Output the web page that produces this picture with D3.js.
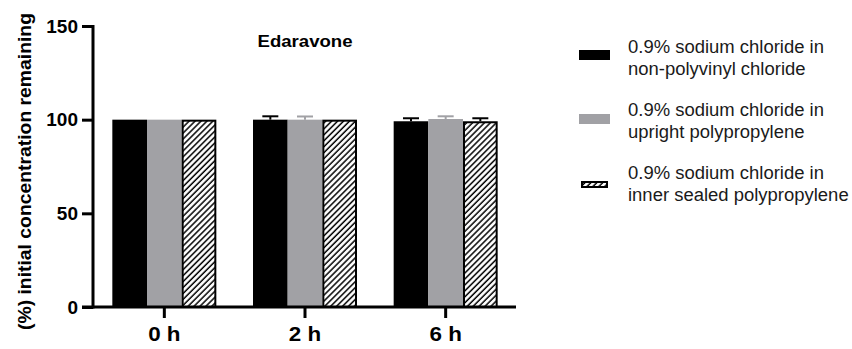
<!DOCTYPE html>
<html><head><meta charset="utf-8">
<script src="https://cdn.jsdelivr.net/npm/d3@7"></script>
<style>body{margin:0;background:#fff}svg{display:block}text{font-family:"Liberation Sans",Arial,sans-serif}</style>
</head><body><svg id="c" width="852" height="349"></svg>
<script>
const categories = ["0 h", "2 h", "6 h"];
const seriesNames = [
  ["0.9% sodium chloride in", "non-polyvinyl chloride"],
  ["0.9% sodium chloride in", "upright polypropylene"],
  ["0.9% sodium chloride in", "inner sealed polypropylene"]
];
const nonPvcValues = [100, 100, 99.15];
const nonPvcErrors = [0, 1.8, 1.6];
const uprightValues = [100, 100, 100.35];
const uprightErrors = [0, 1.7, 1.45];
const innerValues = [100, 100, 99.15];
const innerErrors = [0, 0, 1.6];
const yTicks = [0, 50, 100, 150];
const title = "Edaravone";
const yTitle = "(%) initial concentration remaining";

const series = [
  {key: "a", values: nonPvcValues, errors: nonPvcErrors, fill: "#000", err: "#000"},
  {key: "b", values: uprightValues, errors: uprightErrors, fill: "#a1a1a5", err: "#a1a1a5"},
  {key: "c", values: innerValues, errors: innerErrors, fill: "url(#hatch)", err: "#000", stroke: "#000"}
];

const svg = d3.select("#c");
const defs = svg.append("defs");
const pat = defs.append("pattern").attr("id", "hatch").attr("patternUnits", "userSpaceOnUse")
  .attr("width", 4.2).attr("height", 4.2).attr("patternTransform", "rotate(45)");
pat.append("rect").attr("width", 4.2).attr("height", 4.2).attr("fill", "#fff");
pat.append("line").attr("x1", 1).attr("y1", 0).attr("x2", 1).attr("y2", 4.2).attr("stroke", "#000").attr("stroke-width", 1.5);

const y = d3.scaleLinear().domain([0, 150]).range([307, 26]);
const x = d3.scaleBand().domain(categories).range([94, 516]).padding(0);
const groupW = 104;
const xi = d3.scaleBand().domain(series.map(s => s.key)).range([0, groupW]).padding(0);

// bars
series.forEach(s => {
  const g = svg.append("g");
  categories.forEach((c, i) => {
    const x0 = x(c) + x.bandwidth() / 2 - groupW / 2 + xi(s.key);
    const bw = xi.bandwidth();
    const v = s.values[i], e = s.errors[i];
    if (e > 0) {
      const cx = x0 + bw / 2;
      g.append("line").attr("x1", cx).attr("x2", cx).attr("y1", y(v)).attr("y2", y(v + e))
        .attr("stroke", s.err).attr("stroke-width", 2);
      g.append("line").attr("x1", cx - 8).attr("x2", cx + 8).attr("y1", y(v + e)).attr("y2", y(v + e))
        .attr("stroke", s.err).attr("stroke-width", 2);
    }
    if (s.stroke) {
      g.append("rect").attr("x", x0 + 1).attr("y", y(v) + 1).attr("width", bw - 2).attr("height", y(0) - y(v) - 1)
        .attr("fill", s.fill).attr("stroke", s.stroke).attr("stroke-width", 2);
    } else {
      g.append("rect").attr("x", x0).attr("y", y(v)).attr("width", bw).attr("height", y(0) - y(v))
        .attr("fill", s.fill);
    }
  });
});

// y axis
const yAxis = svg.append("g").attr("transform", "translate(93,0)")
  .call(d3.axisLeft(y).tickValues(yTicks).tickSize(11).tickPadding(4));
yAxis.attr("font-size", null).attr("font-family", null);
yAxis.select(".domain").attr("d", `M0,${y(150)-1}V${y(0)+1.5}`).attr("stroke-width", 3);
yAxis.selectAll(".tick line").attr("stroke-width", 3);
yAxis.selectAll(".tick text").style("font-size", "19px").style("font-weight", "bold").attr("fill", "#000");

// x axis
const xAxis = svg.append("g").attr("transform", "translate(0,307)")
  .call(d3.axisBottom(x).tickSize(11).tickPadding(9));
xAxis.attr("font-size", null).attr("font-family", null);
xAxis.select(".domain").attr("d", "M82,0H516").attr("stroke-width", 3);
xAxis.selectAll(".tick line").attr("stroke-width", 3);
xAxis.selectAll(".tick text").style("font-size", "20px").style("font-weight", "bold").attr("fill", "#000")
  .each(function(){ const w = this.getComputedTextLength(); d3.select(this).attr("textLength", w*1.12).attr("lengthAdjust","spacingAndGlyphs"); });

// title
svg.append("text").attr("x", 305).attr("y", 46.5).attr("text-anchor", "middle")
  .style("font-size", "16.5px").style("font-weight", "bold").attr("textLength", 95).attr("lengthAdjust", "spacingAndGlyphs")
  .text(title);

// y title
svg.append("text").attr("transform", "translate(31,171.5) rotate(-90)").attr("text-anchor", "middle")
  .style("font-size", "18px").style("font-weight", "bold").attr("textLength", 317).attr("lengthAdjust", "spacingAndGlyphs")
  .text(yTitle);

// legend
const legY = [53, 116, 179];
const swatches = [
  {x: 579, y: 50, w: 31, h: 10},
  {x: 579, y: 114, w: 31, h: 10},
  {x: 582, y: 182, w: 25, h: 5}
];
const leg = svg.append("g");
let factor = null;
series.forEach((s, i) => {
  const sw = swatches[i];
  if (s.stroke) {
    leg.append("rect").attr("x", sw.x).attr("y", sw.y).attr("width", sw.w).attr("height", sw.h)
      .attr("fill", s.fill).attr("stroke", "#000").attr("stroke-width", 2);
  } else {
    leg.append("rect").attr("x", sw.x).attr("y", sw.y).attr("width", sw.w).attr("height", sw.h).attr("fill", s.fill);
  }
  seriesNames[i].forEach((line, j) => {
    const tx = leg.append("text").attr("x", 628).attr("y", legY[i] + j * 21.5).style("font-size", "18px")
      .attr("fill", "#1a1a1a").text(line);
    const w = tx.node().getComputedTextLength();
    if (factor === null) factor = 196 / w;
    tx.attr("textLength", w * factor).attr("lengthAdjust", "spacingAndGlyphs");
  });
});
</script></body></html>
